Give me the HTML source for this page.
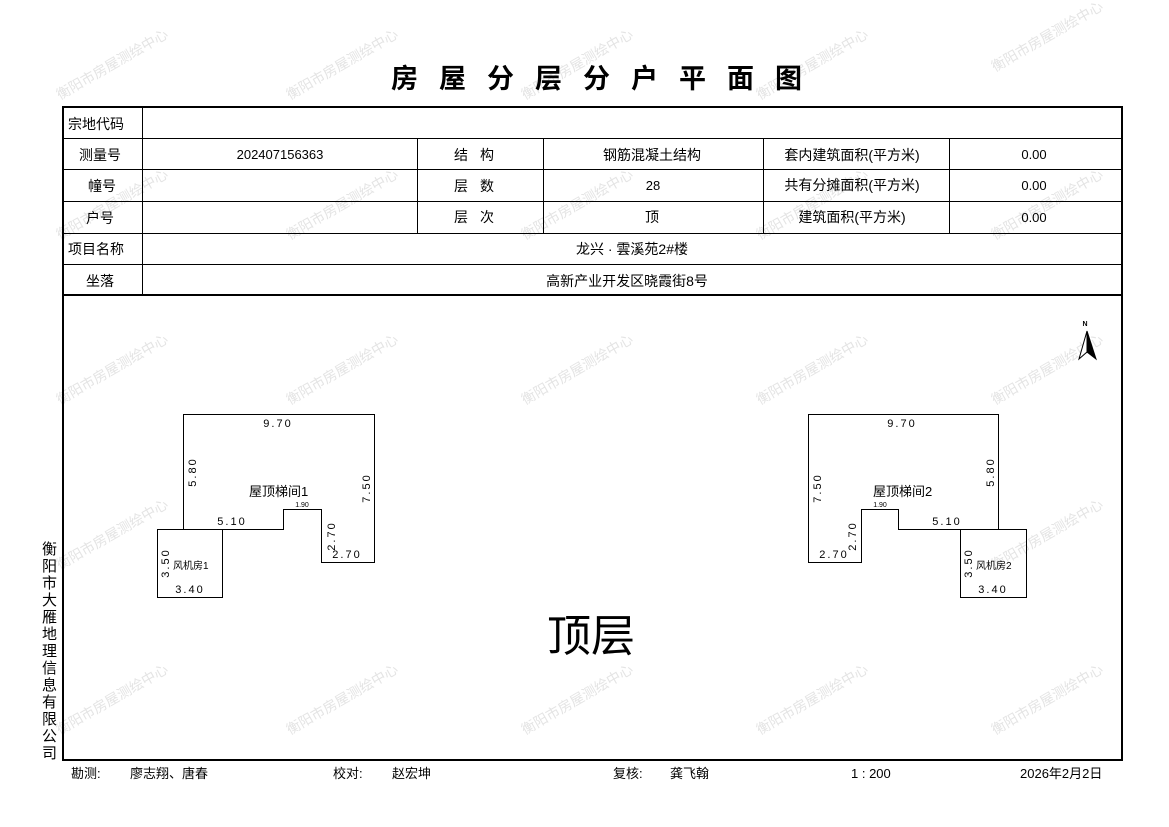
<!DOCTYPE html>
<html><head><meta charset="utf-8"><style>
body{margin:0;background:#fff;width:1169px;height:827px;overflow:hidden}
svg{display:block}
text{font-family:"Liberation Sans","Noto Sans CJK SC",sans-serif;fill:#000}
.wm text{fill:#e4e4e4;font-size:14px}
</style></head><body>
<svg width="1169" height="827" viewBox="0 0 1169 827">
<g class="wm">
<text transform="translate(60,100) rotate(-30)">衡阳市房屋测绘中心</text>
<text transform="translate(290,100) rotate(-30)">衡阳市房屋测绘中心</text>
<text transform="translate(525,100) rotate(-30)">衡阳市房屋测绘中心</text>
<text transform="translate(760,100) rotate(-30)">衡阳市房屋测绘中心</text>
<text transform="translate(995,72) rotate(-30)">衡阳市房屋测绘中心</text>
<text transform="translate(60,240) rotate(-30)">衡阳市房屋测绘中心</text>
<text transform="translate(290,240) rotate(-30)">衡阳市房屋测绘中心</text>
<text transform="translate(525,240) rotate(-30)">衡阳市房屋测绘中心</text>
<text transform="translate(760,240) rotate(-30)">衡阳市房屋测绘中心</text>
<text transform="translate(995,240) rotate(-30)">衡阳市房屋测绘中心</text>
<text transform="translate(60,405) rotate(-30)">衡阳市房屋测绘中心</text>
<text transform="translate(290,405) rotate(-30)">衡阳市房屋测绘中心</text>
<text transform="translate(525,405) rotate(-30)">衡阳市房屋测绘中心</text>
<text transform="translate(760,405) rotate(-30)">衡阳市房屋测绘中心</text>
<text transform="translate(995,405) rotate(-30)">衡阳市房屋测绘中心</text>
<text transform="translate(60,570) rotate(-30)">衡阳市房屋测绘中心</text>
<text transform="translate(995,570) rotate(-30)">衡阳市房屋测绘中心</text>
<text transform="translate(60,735) rotate(-30)">衡阳市房屋测绘中心</text>
<text transform="translate(290,735) rotate(-30)">衡阳市房屋测绘中心</text>
<text transform="translate(525,735) rotate(-30)">衡阳市房屋测绘中心</text>
<text transform="translate(760,735) rotate(-30)">衡阳市房屋测绘中心</text>
<text transform="translate(995,735) rotate(-30)">衡阳市房屋测绘中心</text>
</g>
<text x="607" y="88" font-size="27" font-weight="bold" text-anchor="middle" letter-spacing="21">房屋分层分户平面图</text>
<g stroke="#000" fill="none">
<rect x="63" y="107" width="1059" height="653" stroke-width="2"/>
<line x1="62" y1="295" x2="1122" y2="295" stroke-width="2"/>
<g stroke-width="1">
<line x1="62" y1="138.5" x2="1122" y2="138.5"/>
<line x1="62" y1="169.5" x2="1122" y2="169.5"/>
<line x1="62" y1="201.5" x2="1122" y2="201.5"/>
<line x1="62" y1="233.5" x2="1122" y2="233.5"/>
<line x1="62" y1="264.5" x2="1122" y2="264.5"/>
<line x1="142.5" y1="106" x2="142.5" y2="295"/>
<line x1="417.5" y1="138" x2="417.5" y2="233"/>
<line x1="543.5" y1="138" x2="543.5" y2="233"/>
<line x1="763.5" y1="138" x2="763.5" y2="233"/>
<line x1="949.5" y1="138" x2="949.5" y2="233"/>
<polyline points="183.5,529.5 183.5,414.5 374.5,414.5 374.5,562.5 321.5,562.5 321.5,509.5 283.5,509.5 283.5,529.5 183.5,529.5"/>
<rect x="157.5" y="529.5" width="65" height="68"/>
<polyline points="998.5,529.5 998.5,414.5 808.5,414.5 808.5,562.5 861.5,562.5 861.5,509.5 898.5,509.5 898.5,529.5 998.5,529.5"/>
<rect x="960.5" y="529.5" width="66" height="68"/>
</g>
</g>
<g font-size="14">
<text x="68" y="129">宗地代码</text>
<text x="79" y="160">测量号</text>
<text x="88" y="191">幢号</text>
<text x="86" y="223">户号</text>
<text x="68" y="254">项目名称</text>
<text x="86" y="286">坐落</text>
<text x="280" y="159" text-anchor="middle" font-size="13">202407156363</text>
<text x="480" y="160" text-anchor="middle" letter-spacing="12">结构</text>
<text x="480" y="191" text-anchor="middle" letter-spacing="12">层数</text>
<text x="480" y="222" text-anchor="middle" letter-spacing="12">层次</text>
<text x="652" y="160" text-anchor="middle">钢筋混凝土结构</text>
<text x="653" y="190" text-anchor="middle" font-size="13">28</text>
<text x="652" y="222" text-anchor="middle">顶</text>
<text x="852" y="160" text-anchor="middle">套内建筑面积(平方米)</text>
<text x="852" y="190" text-anchor="middle">共有分摊面积(平方米)</text>
<text x="852" y="222" text-anchor="middle">建筑面积(平方米)</text>
<text x="1034" y="159" text-anchor="middle" font-size="13">0.00</text>
<text x="1034" y="190" text-anchor="middle" font-size="13">0.00</text>
<text x="1034" y="222" text-anchor="middle" font-size="13">0.00</text>
<text x="632" y="254" text-anchor="middle">龙兴 · 雲溪苑2#楼</text>
<text x="627" y="286" text-anchor="middle">高新产业开发区晓霞街8号</text>
</g>
<g font-size="11" font-family="Liberation Mono">
<text x="278" y="427" text-anchor="middle" letter-spacing="2">9.70</text>
<text x="249" y="496" font-size="13">屋顶梯间1</text>
<text x="232" y="525" text-anchor="middle" letter-spacing="2">5.10</text>
<text x="302" y="507" font-size="7" text-anchor="middle">1.90</text>
<text x="347" y="558" text-anchor="middle" letter-spacing="2">2.70</text>
<text x="190" y="593" letter-spacing="2" text-anchor="middle">3.40</text>
<text x="173" y="569" font-size="10">风机房1</text>
<text transform="translate(196,472) rotate(-90)" text-anchor="middle" letter-spacing="2">5.80</text>
<text transform="translate(370,488) rotate(-90)" text-anchor="middle" letter-spacing="2">7.50</text>
<text transform="translate(335,536) rotate(-90)" text-anchor="middle" letter-spacing="2">2.70</text>
<text transform="translate(169,563) rotate(-90)" text-anchor="middle" letter-spacing="2">3.50</text>

<text x="902" y="427" text-anchor="middle" letter-spacing="2">9.70</text>
<text x="873" y="496" font-size="13">屋顶梯间2</text>
<text x="947" y="525" text-anchor="middle" letter-spacing="2">5.10</text>
<text x="880" y="507" font-size="7" text-anchor="middle">1.90</text>
<text x="834" y="558" text-anchor="middle" letter-spacing="2">2.70</text>
<text x="993" y="593" letter-spacing="2" text-anchor="middle">3.40</text>
<text x="976" y="569" font-size="10">风机房2</text>
<text transform="translate(821,488) rotate(-90)" text-anchor="middle" letter-spacing="2">7.50</text>
<text transform="translate(994,472) rotate(-90)" text-anchor="middle" letter-spacing="2">5.80</text>
<text transform="translate(856,536) rotate(-90)" text-anchor="middle" letter-spacing="2">2.70</text>
<text transform="translate(972,563) rotate(-90)" text-anchor="middle" letter-spacing="2">3.50</text>
</g>
<text x="591" y="651" font-size="44" text-anchor="middle" font-family="Liberation Serif,'Noto Serif CJK SC',serif">顶层</text>
<text x="1085" y="326" font-size="7" font-weight="bold" text-anchor="middle">N</text>
<polygon points="1087,331 1079,359 1087,352" fill="#fff" stroke="#000"/>
<polygon points="1087,331 1096,359 1087,352" fill="#000" stroke="#000"/>
<g font-size="15">
<text x="42" y="554">衡</text><text x="42" y="571">阳</text><text x="42" y="588">市</text><text x="42" y="605">大</text><text x="42" y="622">雁</text><text x="42" y="639">地</text><text x="42" y="656">理</text><text x="42" y="673">信</text><text x="42" y="690">息</text><text x="42" y="707">有</text><text x="42" y="724">限</text><text x="42" y="741">公</text><text x="42" y="758">司</text>
</g>
<g font-size="13">
<text x="71" y="778">勘测:</text>
<text x="130" y="778">廖志翔、唐春</text>
<text x="333" y="778">校对:</text>
<text x="392" y="778">赵宏坤</text>
<text x="613" y="778">复核:</text>
<text x="670" y="778">龚飞翰</text>
<text x="851" y="778">1 : 200</text>
<text x="1020" y="778">2026年2月2日</text>
</g>
</svg>
</body></html>
